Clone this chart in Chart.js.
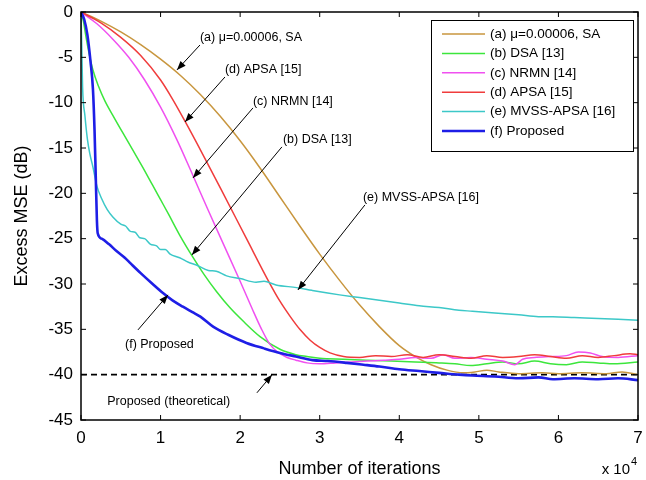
<!DOCTYPE html>
<html><head><meta charset="utf-8">
<script src="https://cdn.jsdelivr.net/npm/chart.js@4/dist/chart.umd.min.js"></script>
<style>html,body{margin:0;padding:0;background:#fff}</style>
</head><body>
<canvas id="c" width="646" height="480"></canvas>
<script>
// ---- data (x in units of 10^4 iterations, y in dB) ----
const seriesLabels = ['(a) \u03bc=0.00006, SA','(b) DSA [13]','(c) NRMN [14]','(d) APSA [15]','(e) MVSS-APSA [16]','(f) Proposed'];
const xTicks = [0,1,2,3,4,5,6,7];
const yTicks = [0,-5,-10,-15,-20,-25,-30,-35,-40,-45];

const curveA = [[0,0],[0.25,-1.0],[0.5,-2.2],[0.75,-3.6],[1.0,-5.2],[1.25,-7.0],[1.5,-9.1],[1.75,-11.5],[2.0,-14.2],[2.25,-17.2],[2.5,-20.4],[2.75,-23.6],[3.0,-26.7],[3.25,-29.6],[3.5,-32.3],[3.75,-34.7],[4.0,-36.8],[4.2,-38.0],[4.4,-38.9],[4.6,-39.5],[4.8,-39.8],[4.95,-39.7],[5.1,-39.5],[5.25,-39.7],[5.5,-39.9],[5.8,-39.8],[6.0,-39.9],[6.3,-39.8],[6.6,-39.9],[6.8,-39.7],[7,-40.0]];
const curveB = [[0,0],[0.03,-1.0],[0.06,-2.6],[0.1,-4.5],[0.15,-6.4],[0.22,-8.2],[0.3,-9.8],[0.4,-11.4],[0.53,-13.4],[0.65,-15.2],[0.78,-17.2],[0.9,-19.1],[1.0,-20.7],[1.1,-22.3],[1.24,-24.6],[1.41,-27.1],[1.55,-29.0],[1.7,-30.8],[1.87,-32.6],[2.05,-34.2],[2.25,-35.8],[2.5,-37.2],[2.7,-37.8],[2.84,-38.0],[3.0,-38.2],[3.3,-38.3],[3.6,-38.4],[3.9,-38.5],[4.2,-38.6],[4.5,-38.7],[4.7,-38.8],[4.9,-39.0],[5.1,-38.8],[5.3,-38.6],[5.5,-38.8],[5.7,-38.5],[5.9,-38.8],[6.1,-38.9],[6.3,-38.6],[6.5,-38.7],[6.7,-38.8],[7,-38.6]];
const curveC = [[0,0],[0.2,-1.3],[0.4,-3.0],[0.6,-5.0],[0.8,-7.5],[1.0,-10.5],[1.2,-14.0],[1.4,-17.9],[1.6,-21.9],[1.8,-25.8],[2.0,-29.7],[2.15,-32.7],[2.27,-35.0],[2.37,-36.6],[2.47,-37.5],[2.59,-38.1],[2.7,-38.4],[2.84,-38.7],[3.0,-38.8],[3.2,-38.7],[3.4,-38.6],[3.6,-38.5],[3.8,-38.4],[4.0,-38.3],[4.2,-38.1],[4.4,-38.2],[4.55,-37.8],[4.7,-38.2],[4.9,-38.1],[5.1,-38.3],[5.3,-38.5],[5.45,-38.9],[5.55,-38.3],[5.7,-38.1],[5.9,-38.0],[6.1,-37.9],[6.25,-37.5],[6.4,-37.6],[6.55,-38.0],[6.75,-38.1],[7,-37.9]];
const curveD = [[0,0],[0.25,-1.2],[0.5,-2.8],[0.75,-4.8],[1.0,-7.5],[1.15,-9.6],[1.31,-12.1],[1.53,-15.7],[1.78,-19.9],[2.08,-25.0],[2.37,-29.9],[2.5,-31.9],[2.63,-33.6],[2.75,-35.0],[2.88,-36.2],[3.0,-37.0],[3.13,-37.6],[3.3,-38.0],[3.5,-38.1],[3.7,-37.9],[3.9,-38.0],[4.1,-37.8],[4.3,-38.1],[4.5,-37.8],[4.7,-38.0],[4.9,-38.2],[5.1,-37.9],[5.3,-38.1],[5.5,-38.0],[5.7,-37.8],[5.9,-38.0],[6.1,-38.2],[6.3,-37.9],[6.5,-38.1],[6.7,-37.9],[6.9,-37.7],[7,-37.8]];
const curveE = [[0,0],[0.01,-4.0],[0.02,-8.3],[0.05,-11.5],[0.08,-14.0],[0.11,-15.6],[0.15,-17.1],[0.2,-19.2],[0.26,-20.6],[0.33,-21.8],[0.4,-22.6],[0.5,-23.4],[0.56,-23.6],[0.62,-24.2],[0.68,-24.3],[0.74,-24.9],[0.8,-25.0],[0.87,-25.6],[0.95,-25.8],[1.0,-26.2],[1.06,-26.2],[1.12,-26.7],[1.24,-27.1],[1.35,-27.6],[1.45,-27.9],[1.6,-28.5],[1.7,-28.6],[1.83,-29.1],[2.0,-29.4],[2.2,-29.8],[2.3,-29.7],[2.45,-30.1],[2.71,-30.4],[2.9,-30.7],[3.1,-31.0],[3.25,-31.2],[3.5,-31.5],[3.75,-31.8],[4.0,-32.1],[4.25,-32.4],[4.5,-32.6],[4.75,-32.9],[4.92,-33.0],[5.2,-33.2],[5.5,-33.4],[5.75,-33.6],[5.93,-33.6],[6.2,-33.7],[6.5,-33.8],[6.75,-33.9],[7,-34.0]];
const curveF = [[0,0],[0.04,-0.8],[0.08,-2.5],[0.12,-5.5],[0.15,-8.5],[0.17,-13.0],[0.185,-18.0],[0.2,-23.0],[0.21,-24.4],[0.26,-25.0],[0.35,-25.6],[0.45,-26.4],[0.55,-27.1],[0.62,-27.7],[0.75,-28.8],[0.9,-30.0],[1.03,-31.0],[1.15,-31.8],[1.28,-32.5],[1.4,-33.1],[1.5,-33.6],[1.66,-34.7],[1.85,-35.6],[2.08,-36.5],[2.3,-37.1],[2.5,-37.6],[2.7,-38.0],[2.91,-38.4],[3.1,-38.5],[3.34,-38.7],[3.55,-38.9],[3.75,-39.1],[4.0,-39.4],[4.25,-39.6],[4.5,-39.8],[4.75,-40.0],[4.92,-40.1],[5.2,-40.2],[5.5,-40.4],[5.75,-40.3],[5.93,-40.5],[6.2,-40.4],[6.5,-40.5],[6.75,-40.4],[7,-40.6]];
const theoretical = [[0,-40],[7,-40]];

// annotation texts, anchored in data coordinates
const notes = [
  {text:'(a) \u03bc=0.00006, SA', at:[1.495,-2.87], from:[1.495,-3.64], to:[1.206,-6.39]},
  {text:'(d) APSA [15]', at:[1.809,-6.39], from:[1.809,-7.17], to:[1.307,-12.13]},
  {text:'(c) NRMN [14]', at:[2.161,-9.92], from:[2.161,-10.58], to:[1.407,-18.30]},
  {text:'(b) DSA [13]', at:[2.538,-14.11], from:[2.525,-14.88], to:[1.394,-26.79]},
  {text:'(e) MVSS-APSA [16]', at:[3.543,-20.51], from:[3.568,-21.28], to:[2.726,-30.65]},
  {text:'(f) Proposed', at:[0.553,-36.71], from:[0.716,-35.06], to:[1.093,-31.2]},
  {text:'Proposed (theoretical)', at:[0.33,-43.0], from:[2.211,-42.0], to:[2.4,-40.02]}
];

// ---- styles ----
const colors = ['#C8963E','#3CE63C','#F050F0','#F03C3C','#3CC8C8','#1E1EE6'];
const widths = [1.5,1.5,1.5,1.5,1.5,2.6];
const FONT = '"Liberation Sans", Arial, sans-serif';
const curves = [curveA,curveB,curveC,curveD,curveE,curveF];

const datasets = curves.map((c,i)=>({
  label: seriesLabels[i],
  data: c.map(p=>({x:p[0],y:p[1]})),
  borderColor: colors[i], borderWidth: widths[i],
  showLine:true, pointRadius:0, fill:false, cubicInterpolationMode:'monotone', order: 6-i
}));
datasets.push({label:'theoretical', data: theoretical.map(p=>({x:p[0],y:p[1]})), borderColor:'#000', borderWidth:1.6, borderDash:[6,4], showLine:true, pointRadius:0, order:7});

function arrow(ctx, x1,y1,x2,y2){
  ctx.beginPath(); ctx.moveTo(x1,y1); ctx.lineTo(x2,y2); ctx.stroke();
  const a = Math.atan2(y2-y1,x2-x1), L=9, W=3.5;
  ctx.beginPath();
  ctx.moveTo(x2,y2);
  ctx.lineTo(x2-L*Math.cos(a)+W*Math.sin(a), y2-L*Math.sin(a)-W*Math.cos(a));
  ctx.lineTo(x2-L*Math.cos(a)-W*Math.sin(a), y2-L*Math.sin(a)+W*Math.cos(a));
  ctx.closePath(); ctx.fill();
}

const deco = {
  id:'deco',
  afterDatasetsDraw(chart){
    const {ctx, chartArea:ca, scales:{x,y}} = chart;
    ctx.save();
    ctx.strokeStyle='#000'; ctx.lineWidth=1.5;
    ctx.strokeRect(ca.left, ca.top, ca.right-ca.left, ca.bottom-ca.top);
    ctx.lineWidth=1;
    const T=5;
    xTicks.forEach(v=>{const px=x.getPixelForValue(v);
      ctx.beginPath(); ctx.moveTo(px,ca.bottom); ctx.lineTo(px,ca.bottom-T);
      ctx.moveTo(px,ca.top); ctx.lineTo(px,ca.top+T); ctx.stroke();});
    yTicks.forEach(v=>{const py=y.getPixelForValue(v);
      ctx.beginPath(); ctx.moveTo(ca.left,py); ctx.lineTo(ca.left+T,py);
      ctx.moveTo(ca.right,py); ctx.lineTo(ca.right-T,py); ctx.stroke();});
    ctx.fillStyle='#000'; ctx.strokeStyle='#000'; ctx.lineWidth=1;
    ctx.font='12.5px '+FONT; ctx.textBaseline='middle'; ctx.textAlign='left';
    notes.forEach(n=>{
      ctx.fillText(n.text, x.getPixelForValue(n.at[0]), y.getPixelForValue(n.at[1]));
      arrow(ctx, x.getPixelForValue(n.from[0]), y.getPixelForValue(n.from[1]),
                 x.getPixelForValue(n.to[0]), y.getPixelForValue(n.to[1]));
    });
    const lw=202, lh=131, lx=ca.right-5-lw, ly=ca.top+8;
    ctx.fillStyle='#fff'; ctx.fillRect(lx,ly,lw,lh);
    ctx.strokeStyle='#000'; ctx.lineWidth=1; ctx.strokeRect(lx+0.5,ly+0.5,lw,lh);
    ctx.font='13.5px '+FONT;
    seriesLabels.forEach((s,i)=>{
      const ry = ly+14+i*19.4;
      ctx.strokeStyle=colors[i]; ctx.lineWidth=widths[i];
      ctx.beginPath(); ctx.moveTo(lx+11,ry); ctx.lineTo(lx+54,ry); ctx.stroke();
      ctx.fillStyle='#000'; ctx.fillText(s, lx+59, ry);
    });
    ctx.fillStyle='#000';
    ctx.font='18px '+FONT; ctx.textAlign='center';
    ctx.fillText('Number of iterations', (ca.left+ca.right)/2, 469);
    ctx.textAlign='right';
    ctx.font='15px '+FONT; ctx.fillText('x 10', ca.right-8, 470);
    ctx.font='11px '+FONT; ctx.textAlign='left'; ctx.fillText('4', ca.right-7, 462);
    ctx.save(); ctx.translate(22,(ca.top+ca.bottom)/2); ctx.rotate(-Math.PI/2);
    ctx.font='18px '+FONT; ctx.textAlign='center'; ctx.fillText('Excess MSE (dB)',0,0);
    ctx.restore();
    ctx.restore();
  }
};

new Chart(document.getElementById('c'), {
  type:'scatter',
  data:{datasets},
  options:{
    responsive:false, animation:false, devicePixelRatio:1,
    layout:{padding:{top:12,right:8,left:0,bottom:0}},
    plugins:{legend:{display:false}, tooltip:{enabled:false}},
    scales:{
      x:{type:'linear', min:0, max:7,
        afterBuildTicks(s){s.ticks = xTicks.map(v=>({value:v}));},
        afterFit(s){s.height=60; s.paddingLeft=0; s.paddingRight=0;},
        grid:{display:false, drawTicks:false}, border:{display:false},
        ticks:{color:'#000', font:{size:17, family:FONT}, padding:8, maxRotation:0}},
      y:{type:'linear', min:-45, max:0,
        afterBuildTicks(s){s.ticks = yTicks.map(v=>({value:v}));},
        afterFit(s){s.width=81; s.paddingTop=0; s.paddingBottom=0;},
        grid:{display:false, drawTicks:false}, border:{display:false},
        ticks:{color:'#000', font:{size:17, family:FONT}, padding:8}}
    }
  },
  plugins:[deco]
});
</script>
</body></html>
